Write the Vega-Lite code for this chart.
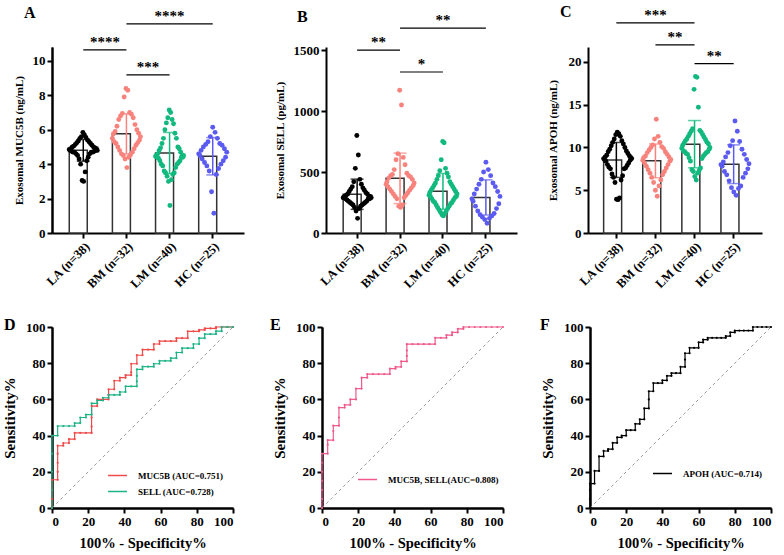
{
"$schema": "https://vega.github.io/schema/vega-lite/v6.json",
"background": "white",
"padding": {"left": 2, "top": 3, "right": 2, "bottom": 2},
"config": {
  "font": "Liberation Serif",
  "view": {"stroke": null},
  "axis": {"labelFont": "Liberation Serif", "titleFont": "Liberation Serif", "labelFontWeight": "bold", "titleFontWeight": "bold", "labelColor": "#000", "titleColor": "#000", "domainColor": "#000", "domainWidth": 2, "tickColor": "#000", "tickWidth": 2, "tickSize": 5, "grid": false, "labelPadding": 2, "labelOverlap": false},
  "title": {"font": "Liberation Serif", "fontWeight": "bold", "fontSize": 16, "anchor": "start", "color": "#000", "frame": "group"},
  "legend": {"labelFont": "Liberation Serif", "labelFontWeight": "bold", "labelFontSize": 9, "labelColor": "#000"}
},
"resolve": {"scale": {"color": "independent"}, "legend": {"color": "independent"}},
"datasets": {
  "a": [
    {"g":"LA","v":5.85,"o":-1},{"g":"LA","v":5.7,"o":3},{"g":"LA","v":5.6,"o":-5},{"g":"LA","v":5.55,"o":7},{"g":"LA","v":5.5,"o":-9},{"g":"LA","v":5.4,"o":11},{"g":"LA","v":5.35,"o":-13},{"g":"LA","v":5.3,"o":15},{"g":"LA","v":5.25,"o":-17},{"g":"LA","v":5.2,"o":19},{"g":"LA","v":5.15,"o":-21},{"g":"LA","v":5.1,"o":23},{"g":"LA","v":5.05,"o":-25},{"g":"LA","v":5.0,"o":27},{"g":"LA","v":5.0,"o":-29},{"g":"LA","v":4.95,"o":31},{"g":"LA","v":4.9,"o":-33},{"g":"LA","v":4.9,"o":35},{"g":"LA","v":4.85,"o":-37},{"g":"LA","v":4.8,"o":37},{"g":"LA","v":4.8,"o":-35},{"g":"LA","v":4.8,"o":33},{"g":"LA","v":4.75,"o":-31},{"g":"LA","v":4.75,"o":29},{"g":"LA","v":4.7,"o":-27},{"g":"LA","v":4.7,"o":25},{"g":"LA","v":4.7,"o":-23},{"g":"LA","v":4.7,"o":21},{"g":"LA","v":4.6,"o":-19},{"g":"LA","v":4.6,"o":17},{"g":"LA","v":4.5,"o":-15},{"g":"LA","v":4.4,"o":13},{"g":"LA","v":4.3,"o":-11},{"g":"LA","v":4.2,"o":9},{"g":"LA","v":4.0,"o":-7},{"g":"LA","v":3.55,"o":5},{"g":"LA","v":3.05,"o":-3},{"g":"LA","v":3.0,"o":1},
    {"g":"BM","v":8.4,"o":-1},{"g":"BM","v":8.3,"o":3},{"g":"BM","v":7.9,"o":-5},{"g":"BM","v":7.0,"o":7},{"g":"BM","v":6.95,"o":-9},{"g":"BM","v":6.9,"o":11},{"g":"BM","v":6.8,"o":-13},{"g":"BM","v":6.7,"o":15},{"g":"BM","v":6.6,"o":-17},{"g":"BM","v":6.3,"o":19},{"g":"BM","v":6.2,"o":-21},{"g":"BM","v":6.0,"o":23},{"g":"BM","v":5.9,"o":-25},{"g":"BM","v":5.8,"o":27},{"g":"BM","v":5.75,"o":-29},{"g":"BM","v":5.6,"o":31},{"g":"BM","v":5.5,"o":-31},{"g":"BM","v":5.4,"o":29},{"g":"BM","v":5.3,"o":-27},{"g":"BM","v":5.25,"o":25},{"g":"BM","v":5.2,"o":-23},{"g":"BM","v":5.1,"o":21},{"g":"BM","v":5.0,"o":-19},{"g":"BM","v":4.9,"o":17},{"g":"BM","v":4.8,"o":-15},{"g":"BM","v":4.7,"o":13},{"g":"BM","v":4.6,"o":-11},{"g":"BM","v":4.55,"o":9},{"g":"BM","v":4.5,"o":-7},{"g":"BM","v":4.4,"o":5},{"g":"BM","v":4.3,"o":-3},{"g":"BM","v":3.8,"o":1},
    {"g":"LM","v":7.15,"o":-1},{"g":"LM","v":7.0,"o":3},{"g":"LM","v":6.7,"o":-5},{"g":"LM","v":6.6,"o":7},{"g":"LM","v":6.4,"o":-9},{"g":"LM","v":6.35,"o":11},{"g":"LM","v":6.0,"o":-13},{"g":"LM","v":5.8,"o":15},{"g":"LM","v":5.5,"o":-17},{"g":"LM","v":5.5,"o":19},{"g":"LM","v":5.2,"o":-21},{"g":"LM","v":5.0,"o":23},{"g":"LM","v":4.95,"o":-25},{"g":"LM","v":4.9,"o":27},{"g":"LM","v":4.8,"o":-29},{"g":"LM","v":4.7,"o":31},{"g":"LM","v":4.6,"o":-33},{"g":"LM","v":4.5,"o":35},{"g":"LM","v":4.5,"o":-37},{"g":"LM","v":4.5,"o":39},{"g":"LM","v":4.45,"o":-39},{"g":"LM","v":4.4,"o":37},{"g":"LM","v":4.4,"o":-35},{"g":"LM","v":4.4,"o":33},{"g":"LM","v":4.35,"o":-31},{"g":"LM","v":4.2,"o":29},{"g":"LM","v":4.2,"o":-27},{"g":"LM","v":4.1,"o":25},{"g":"LM","v":4.0,"o":-23},{"g":"LM","v":4.0,"o":21},{"g":"LM","v":3.9,"o":-19},{"g":"LM","v":3.8,"o":17},{"g":"LM","v":3.6,"o":-15},{"g":"LM","v":3.5,"o":13},{"g":"LM","v":3.5,"o":-11},{"g":"LM","v":3.4,"o":9},{"g":"LM","v":3.3,"o":-7},{"g":"LM","v":3.1,"o":5},{"g":"LM","v":3.0,"o":-3},{"g":"LM","v":1.6,"o":1},
    {"g":"HC","v":6.15,"o":-1},{"g":"HC","v":5.85,"o":3},{"g":"HC","v":5.6,"o":-5},{"g":"HC","v":5.5,"o":7},{"g":"HC","v":5.3,"o":-9},{"g":"HC","v":5.2,"o":11},{"g":"HC","v":5.15,"o":-13},{"g":"HC","v":5.1,"o":15},{"g":"HC","v":5.0,"o":-17},{"g":"HC","v":4.9,"o":19},{"g":"HC","v":4.8,"o":-21},{"g":"HC","v":4.7,"o":23},{"g":"HC","v":4.6,"o":-25},{"g":"HC","v":4.5,"o":-23},{"g":"HC","v":4.4,"o":21},{"g":"HC","v":4.3,"o":-19},{"g":"HC","v":4.2,"o":17},{"g":"HC","v":4.1,"o":-15},{"g":"HC","v":4.0,"o":13},{"g":"HC","v":3.9,"o":-11},{"g":"HC","v":3.75,"o":9},{"g":"HC","v":3.6,"o":-7},{"g":"HC","v":3.4,"o":5},{"g":"HC","v":2.4,"o":-3},{"g":"HC","v":1.15,"o":1}
  ],
  "b": [
    {"g":"LA","v":800,"o":-1},{"g":"LA","v":640,"o":3},{"g":"LA","v":530,"o":-5},{"g":"LA","v":440,"o":7},{"g":"LA","v":420,"o":-9},{"g":"LA","v":400,"o":11},{"g":"LA","v":380,"o":-13},{"g":"LA","v":370,"o":15},{"g":"LA","v":360,"o":-17},{"g":"LA","v":350,"o":19},{"g":"LA","v":340,"o":-21},{"g":"LA","v":330,"o":23},{"g":"LA","v":320,"o":-25},{"g":"LA","v":320,"o":27},{"g":"LA","v":310,"o":-29},{"g":"LA","v":300,"o":31},{"g":"LA","v":300,"o":-33},{"g":"LA","v":300,"o":35},{"g":"LA","v":290,"o":-37},{"g":"LA","v":290,"o":37},{"g":"LA","v":290,"o":-35},{"g":"LA","v":280,"o":33},{"g":"LA","v":280,"o":-31},{"g":"LA","v":280,"o":29},{"g":"LA","v":270,"o":-27},{"g":"LA","v":260,"o":25},{"g":"LA","v":260,"o":-23},{"g":"LA","v":250,"o":21},{"g":"LA","v":250,"o":-19},{"g":"LA","v":240,"o":17},{"g":"LA","v":240,"o":-15},{"g":"LA","v":230,"o":13},{"g":"LA","v":230,"o":-11},{"g":"LA","v":220,"o":9},{"g":"LA","v":210,"o":-7},{"g":"LA","v":200,"o":5},{"g":"LA","v":180,"o":-3},{"g":"LA","v":120,"o":1},
    {"g":"BM","v":1170,"o":-1},{"g":"BM","v":1050,"o":3},{"g":"BM","v":650,"o":-5},{"g":"BM","v":620,"o":7},{"g":"BM","v":600,"o":-9},{"g":"BM","v":560,"o":11},{"g":"BM","v":520,"o":-13},{"g":"BM","v":490,"o":15},{"g":"BM","v":480,"o":-17},{"g":"BM","v":470,"o":19},{"g":"BM","v":470,"o":-21},{"g":"BM","v":460,"o":23},{"g":"BM","v":450,"o":-25},{"g":"BM","v":440,"o":27},{"g":"BM","v":420,"o":-29},{"g":"BM","v":410,"o":31},{"g":"BM","v":400,"o":-31},{"g":"BM","v":390,"o":29},{"g":"BM","v":380,"o":-27},{"g":"BM","v":370,"o":25},{"g":"BM","v":360,"o":-23},{"g":"BM","v":350,"o":21},{"g":"BM","v":340,"o":-19},{"g":"BM","v":330,"o":17},{"g":"BM","v":320,"o":-15},{"g":"BM","v":310,"o":13},{"g":"BM","v":300,"o":-11},{"g":"BM","v":290,"o":9},{"g":"BM","v":280,"o":-7},{"g":"BM","v":230,"o":5},{"g":"BM","v":220,"o":-3},{"g":"BM","v":210,"o":1},
    {"g":"LM","v":750,"o":-1},{"g":"LM","v":740,"o":3},{"g":"LM","v":600,"o":-5},{"g":"LM","v":530,"o":7},{"g":"LM","v":510,"o":-9},{"g":"LM","v":490,"o":11},{"g":"LM","v":470,"o":-13},{"g":"LM","v":460,"o":15},{"g":"LM","v":440,"o":-17},{"g":"LM","v":420,"o":19},{"g":"LM","v":410,"o":-21},{"g":"LM","v":400,"o":23},{"g":"LM","v":390,"o":-25},{"g":"LM","v":380,"o":27},{"g":"LM","v":370,"o":-29},{"g":"LM","v":360,"o":31},{"g":"LM","v":350,"o":-33},{"g":"LM","v":340,"o":35},{"g":"LM","v":330,"o":-37},{"g":"LM","v":320,"o":39},{"g":"LM","v":310,"o":-39},{"g":"LM","v":300,"o":37},{"g":"LM","v":300,"o":-35},{"g":"LM","v":290,"o":33},{"g":"LM","v":280,"o":-31},{"g":"LM","v":270,"o":29},{"g":"LM","v":260,"o":-27},{"g":"LM","v":250,"o":25},{"g":"LM","v":250,"o":-23},{"g":"LM","v":240,"o":21},{"g":"LM","v":230,"o":-19},{"g":"LM","v":220,"o":17},{"g":"LM","v":210,"o":-15},{"g":"LM","v":200,"o":13},{"g":"LM","v":190,"o":-11},{"g":"LM","v":180,"o":9},{"g":"LM","v":170,"o":-7},{"g":"LM","v":160,"o":5},{"g":"LM","v":150,"o":-3},{"g":"LM","v":140,"o":1},
    {"g":"HC","v":580,"o":-1},{"g":"HC","v":520,"o":3},{"g":"HC","v":500,"o":-5},{"g":"HC","v":470,"o":7},{"g":"HC","v":440,"o":-9},{"g":"HC","v":410,"o":11},{"g":"HC","v":400,"o":-13},{"g":"HC","v":380,"o":15},{"g":"HC","v":360,"o":-17},{"g":"HC","v":340,"o":19},{"g":"HC","v":320,"o":-21},{"g":"HC","v":300,"o":23},{"g":"HC","v":280,"o":-25},{"g":"HC","v":260,"o":-23},{"g":"HC","v":240,"o":21},{"g":"HC","v":220,"o":-19},{"g":"HC","v":200,"o":17},{"g":"HC","v":180,"o":-15},{"g":"HC","v":160,"o":13},{"g":"HC","v":150,"o":-11},{"g":"HC","v":140,"o":9},{"g":"HC","v":130,"o":-7},{"g":"HC","v":120,"o":5},{"g":"HC","v":110,"o":-3},{"g":"HC","v":80,"o":1}
  ],
  "c": [
    {"g":"LA","v":11.8,"o":-1},{"g":"LA","v":11.6,"o":3},{"g":"LA","v":11.5,"o":-5},{"g":"LA","v":11.3,"o":7},{"g":"LA","v":11.0,"o":-9},{"g":"LA","v":10.8,"o":11},{"g":"LA","v":10.6,"o":-13},{"g":"LA","v":10.4,"o":15},{"g":"LA","v":10.2,"o":-17},{"g":"LA","v":10.0,"o":19},{"g":"LA","v":9.8,"o":-21},{"g":"LA","v":9.6,"o":23},{"g":"LA","v":9.5,"o":-25},{"g":"LA","v":9.3,"o":27},{"g":"LA","v":9.1,"o":-29},{"g":"LA","v":9.0,"o":31},{"g":"LA","v":8.9,"o":-33},{"g":"LA","v":8.8,"o":35},{"g":"LA","v":8.7,"o":-37},{"g":"LA","v":8.7,"o":37},{"g":"LA","v":8.6,"o":-35},{"g":"LA","v":8.5,"o":33},{"g":"LA","v":8.4,"o":-31},{"g":"LA","v":8.2,"o":29},{"g":"LA","v":8.0,"o":-27},{"g":"LA","v":7.9,"o":25},{"g":"LA","v":7.7,"o":-23},{"g":"LA","v":7.6,"o":21},{"g":"LA","v":7.5,"o":-19},{"g":"LA","v":7.5,"o":17},{"g":"LA","v":6.9,"o":-15},{"g":"LA","v":6.7,"o":13},{"g":"LA","v":6.5,"o":-11},{"g":"LA","v":6.2,"o":9},{"g":"LA","v":5.9,"o":-7},{"g":"LA","v":4.1,"o":5},{"g":"LA","v":3.95,"o":-3},{"g":"LA","v":3.9,"o":1},
    {"g":"BM","v":13.3,"o":-1},{"g":"BM","v":11.3,"o":3},{"g":"BM","v":11.0,"o":-5},{"g":"BM","v":10.6,"o":7},{"g":"BM","v":10.3,"o":-9},{"g":"BM","v":10.1,"o":11},{"g":"BM","v":10.0,"o":-13},{"g":"BM","v":9.9,"o":15},{"g":"BM","v":9.7,"o":-17},{"g":"BM","v":9.5,"o":19},{"g":"BM","v":9.4,"o":-21},{"g":"BM","v":9.2,"o":23},{"g":"BM","v":9.0,"o":-25},{"g":"BM","v":8.9,"o":27},{"g":"BM","v":8.8,"o":-29},{"g":"BM","v":8.6,"o":31},{"g":"BM","v":8.5,"o":-31},{"g":"BM","v":8.4,"o":29},{"g":"BM","v":8.2,"o":-27},{"g":"BM","v":8.0,"o":25},{"g":"BM","v":7.8,"o":-23},{"g":"BM","v":7.6,"o":21},{"g":"BM","v":7.4,"o":-19},{"g":"BM","v":7.2,"o":17},{"g":"BM","v":7.0,"o":-15},{"g":"BM","v":6.8,"o":13},{"g":"BM","v":6.5,"o":-11},{"g":"BM","v":6.2,"o":9},{"g":"BM","v":5.9,"o":-7},{"g":"BM","v":5.5,"o":5},{"g":"BM","v":5.0,"o":-3},{"g":"BM","v":4.3,"o":1},
    {"g":"LM","v":18.3,"o":-1},{"g":"LM","v":18.2,"o":3},{"g":"LM","v":16.8,"o":-5},{"g":"LM","v":14.7,"o":7},{"g":"LM","v":12.2,"o":-9},{"g":"LM","v":12.0,"o":11},{"g":"LM","v":11.9,"o":-13},{"g":"LM","v":11.8,"o":15},{"g":"LM","v":11.6,"o":-17},{"g":"LM","v":11.5,"o":19},{"g":"LM","v":11.3,"o":-21},{"g":"LM","v":11.2,"o":23},{"g":"LM","v":11.0,"o":-25},{"g":"LM","v":10.9,"o":27},{"g":"LM","v":10.8,"o":-29},{"g":"LM","v":10.6,"o":31},{"g":"LM","v":10.5,"o":-33},{"g":"LM","v":10.4,"o":35},{"g":"LM","v":10.2,"o":-37},{"g":"LM","v":10.0,"o":39},{"g":"LM","v":9.9,"o":-39},{"g":"LM","v":9.8,"o":37},{"g":"LM","v":9.6,"o":-35},{"g":"LM","v":9.5,"o":33},{"g":"LM","v":9.5,"o":-31},{"g":"LM","v":9.4,"o":29},{"g":"LM","v":9.3,"o":-27},{"g":"LM","v":9.2,"o":25},{"g":"LM","v":9.2,"o":-23},{"g":"LM","v":9.0,"o":21},{"g":"LM","v":8.8,"o":-19},{"g":"LM","v":8.7,"o":17},{"g":"LM","v":8.4,"o":-15},{"g":"LM","v":7.6,"o":13},{"g":"LM","v":7.4,"o":-11},{"g":"LM","v":7.3,"o":9},{"g":"LM","v":7.2,"o":-7},{"g":"LM","v":7.0,"o":5},{"g":"LM","v":6.6,"o":-3},{"g":"LM","v":6.2,"o":1},
    {"g":"HC","v":13.1,"o":-1},{"g":"HC","v":11.9,"o":3},{"g":"HC","v":10.8,"o":-5},{"g":"HC","v":10.7,"o":7},{"g":"HC","v":10.2,"o":-9},{"g":"HC","v":9.8,"o":11},{"g":"HC","v":9.4,"o":-13},{"g":"HC","v":9.2,"o":15},{"g":"HC","v":8.9,"o":-17},{"g":"HC","v":8.6,"o":19},{"g":"HC","v":8.3,"o":-21},{"g":"HC","v":8.1,"o":23},{"g":"HC","v":8.0,"o":-25},{"g":"HC","v":7.8,"o":-23},{"g":"HC","v":7.5,"o":21},{"g":"HC","v":7.2,"o":-19},{"g":"HC","v":7.0,"o":17},{"g":"HC","v":6.8,"o":-15},{"g":"HC","v":6.5,"o":13},{"g":"HC","v":6.1,"o":-11},{"g":"HC","v":5.5,"o":9},{"g":"HC","v":5.3,"o":-7},{"g":"HC","v":5.2,"o":5},{"g":"HC","v":4.8,"o":-3},{"g":"HC","v":4.4,"o":1}
  ],
  "ab": [{"a":"LA","b":"BM","m":"LA","y":10.64,"s":"****","sp":1},{"a":"BM","b":"LM","m":"BM","y":9.19,"s":"***","sp":1},{"a":"BM","b":"HC","m":"LM","y":12.15,"s":"****","sp":2}],
  "bb": [{"a":"LA","b":"BM","m":"LA","y":1500,"s":"**","sp":1},{"a":"BM","b":"LM","m":"BM","y":1320,"s":"*","sp":1},{"a":"BM","b":"HC","m":"LM","y":1680,"s":"**","sp":2}],
  "cb": [{"a":"LA","b":"LM","m":"BM","y":24.56,"s":"***","sp":2},{"a":"BM","b":"LM","m":"BM","y":22.0,"s":"**","sp":1},{"a":"LM","b":"HC","m":"LM","y":19.8,"s":"**","sp":1}],
  "d": [
    {"c":"MUC5B (AUC=0.751)","fpr":0,"sens":0},{"c":"MUC5B (AUC=0.751)","fpr":0,"sens":5},{"c":"MUC5B (AUC=0.751)","fpr":0,"sens":10},{"c":"MUC5B (AUC=0.751)","fpr":0,"sens":15.6},{"c":"MUC5B (AUC=0.751)","fpr":3.125,"sens":15.6},{"c":"MUC5B (AUC=0.751)","fpr":3.125,"sens":20},{"c":"MUC5B (AUC=0.751)","fpr":3.125,"sens":25},{"c":"MUC5B (AUC=0.751)","fpr":3.125,"sens":30},{"c":"MUC5B (AUC=0.751)","fpr":3.125,"sens":34.4},{"c":"MUC5B (AUC=0.751)","fpr":6.25,"sens":34.4},{"c":"MUC5B (AUC=0.751)","fpr":6.25,"sens":35.9},{"c":"MUC5B (AUC=0.751)","fpr":9.375,"sens":35.9},{"c":"MUC5B (AUC=0.751)","fpr":9.375,"sens":38},{"c":"MUC5B (AUC=0.751)","fpr":12.5,"sens":38},{"c":"MUC5B (AUC=0.751)","fpr":12.5,"sens":41.5},{"c":"MUC5B (AUC=0.751)","fpr":15.625,"sens":41.5},{"c":"MUC5B (AUC=0.751)","fpr":18.75,"sens":41.5},{"c":"MUC5B (AUC=0.751)","fpr":21.875,"sens":41.5},{"c":"MUC5B (AUC=0.751)","fpr":21.875,"sens":45},{"c":"MUC5B (AUC=0.751)","fpr":21.875,"sens":50},{"c":"MUC5B (AUC=0.751)","fpr":21.875,"sens":56.3},{"c":"MUC5B (AUC=0.751)","fpr":25,"sens":56.3},{"c":"MUC5B (AUC=0.751)","fpr":25,"sens":60},{"c":"MUC5B (AUC=0.751)","fpr":28.125,"sens":60},{"c":"MUC5B (AUC=0.751)","fpr":31.25,"sens":60},{"c":"MUC5B (AUC=0.751)","fpr":31.25,"sens":62.5},{"c":"MUC5B (AUC=0.751)","fpr":31.25,"sens":65.6},{"c":"MUC5B (AUC=0.751)","fpr":34.375,"sens":65.6},{"c":"MUC5B (AUC=0.751)","fpr":34.375,"sens":70.3},{"c":"MUC5B (AUC=0.751)","fpr":37.5,"sens":70.3},{"c":"MUC5B (AUC=0.751)","fpr":37.5,"sens":72},{"c":"MUC5B (AUC=0.751)","fpr":40.625,"sens":72},{"c":"MUC5B (AUC=0.751)","fpr":40.625,"sens":73.4},{"c":"MUC5B (AUC=0.751)","fpr":43.75,"sens":73.4},{"c":"MUC5B (AUC=0.751)","fpr":43.75,"sens":75},{"c":"MUC5B (AUC=0.751)","fpr":43.75,"sens":79.7},{"c":"MUC5B (AUC=0.751)","fpr":46.875,"sens":79.7},{"c":"MUC5B (AUC=0.751)","fpr":46.875,"sens":84.4},{"c":"MUC5B (AUC=0.751)","fpr":50,"sens":84.4},{"c":"MUC5B (AUC=0.751)","fpr":50,"sens":87.5},{"c":"MUC5B (AUC=0.751)","fpr":53.125,"sens":87.5},{"c":"MUC5B (AUC=0.751)","fpr":56.25,"sens":87.5},{"c":"MUC5B (AUC=0.751)","fpr":56.25,"sens":90.6},{"c":"MUC5B (AUC=0.751)","fpr":59.375,"sens":90.6},{"c":"MUC5B (AUC=0.751)","fpr":59.375,"sens":92.2},{"c":"MUC5B (AUC=0.751)","fpr":62.5,"sens":92.2},{"c":"MUC5B (AUC=0.751)","fpr":65.625,"sens":92.2},{"c":"MUC5B (AUC=0.751)","fpr":68.75,"sens":92.2},{"c":"MUC5B (AUC=0.751)","fpr":68.75,"sens":93.8},{"c":"MUC5B (AUC=0.751)","fpr":71.875,"sens":93.8},{"c":"MUC5B (AUC=0.751)","fpr":75,"sens":93.8},{"c":"MUC5B (AUC=0.751)","fpr":75,"sens":97.6},{"c":"MUC5B (AUC=0.751)","fpr":78.125,"sens":97.6},{"c":"MUC5B (AUC=0.751)","fpr":81.25,"sens":97.6},{"c":"MUC5B (AUC=0.751)","fpr":81.25,"sens":98.4},{"c":"MUC5B (AUC=0.751)","fpr":84.375,"sens":98.4},{"c":"MUC5B (AUC=0.751)","fpr":84.375,"sens":99.2},{"c":"MUC5B (AUC=0.751)","fpr":87.5,"sens":99.2},{"c":"MUC5B (AUC=0.751)","fpr":90.625,"sens":99.2},{"c":"MUC5B (AUC=0.751)","fpr":90.625,"sens":100},{"c":"MUC5B (AUC=0.751)","fpr":93.75,"sens":100},{"c":"MUC5B (AUC=0.751)","fpr":96.875,"sens":100},{"c":"MUC5B (AUC=0.751)","fpr":100,"sens":100},
    {"c":"SELL (AUC=0.728)","fpr":0,"sens":0},{"c":"SELL (AUC=0.728)","fpr":0,"sens":10},{"c":"SELL (AUC=0.728)","fpr":0,"sens":20},{"c":"SELL (AUC=0.728)","fpr":0,"sens":30},{"c":"SELL (AUC=0.728)","fpr":0,"sens":40},{"c":"SELL (AUC=0.728)","fpr":3.125,"sens":40},{"c":"SELL (AUC=0.728)","fpr":3.125,"sens":45.3},{"c":"SELL (AUC=0.728)","fpr":6.25,"sens":45.3},{"c":"SELL (AUC=0.728)","fpr":9.375,"sens":45.3},{"c":"SELL (AUC=0.728)","fpr":12.5,"sens":45.3},{"c":"SELL (AUC=0.728)","fpr":12.5,"sens":46.9},{"c":"SELL (AUC=0.728)","fpr":15.625,"sens":46.9},{"c":"SELL (AUC=0.728)","fpr":15.625,"sens":50},{"c":"SELL (AUC=0.728)","fpr":18.75,"sens":50},{"c":"SELL (AUC=0.728)","fpr":18.75,"sens":51.6},{"c":"SELL (AUC=0.728)","fpr":21.875,"sens":51.6},{"c":"SELL (AUC=0.728)","fpr":21.875,"sens":57.8},{"c":"SELL (AUC=0.728)","fpr":25,"sens":57.8},{"c":"SELL (AUC=0.728)","fpr":25,"sens":59.4},{"c":"SELL (AUC=0.728)","fpr":28.125,"sens":59.4},{"c":"SELL (AUC=0.728)","fpr":28.125,"sens":60.9},{"c":"SELL (AUC=0.728)","fpr":31.25,"sens":60.9},{"c":"SELL (AUC=0.728)","fpr":31.25,"sens":62.5},{"c":"SELL (AUC=0.728)","fpr":34.375,"sens":62.5},{"c":"SELL (AUC=0.728)","fpr":37.5,"sens":62.5},{"c":"SELL (AUC=0.728)","fpr":37.5,"sens":64.1},{"c":"SELL (AUC=0.728)","fpr":40.625,"sens":64.1},{"c":"SELL (AUC=0.728)","fpr":40.625,"sens":67.2},{"c":"SELL (AUC=0.728)","fpr":43.75,"sens":67.2},{"c":"SELL (AUC=0.728)","fpr":46.875,"sens":67.2},{"c":"SELL (AUC=0.728)","fpr":46.875,"sens":70},{"c":"SELL (AUC=0.728)","fpr":46.875,"sens":73},{"c":"SELL (AUC=0.728)","fpr":46.875,"sens":76.6},{"c":"SELL (AUC=0.728)","fpr":50,"sens":76.6},{"c":"SELL (AUC=0.728)","fpr":50,"sens":78.1},{"c":"SELL (AUC=0.728)","fpr":53.125,"sens":78.1},{"c":"SELL (AUC=0.728)","fpr":56.25,"sens":78.1},{"c":"SELL (AUC=0.728)","fpr":56.25,"sens":79.7},{"c":"SELL (AUC=0.728)","fpr":59.375,"sens":79.7},{"c":"SELL (AUC=0.728)","fpr":59.375,"sens":81.3},{"c":"SELL (AUC=0.728)","fpr":62.5,"sens":81.3},{"c":"SELL (AUC=0.728)","fpr":65.625,"sens":81.3},{"c":"SELL (AUC=0.728)","fpr":65.625,"sens":82.8},{"c":"SELL (AUC=0.728)","fpr":68.75,"sens":82.8},{"c":"SELL (AUC=0.728)","fpr":68.75,"sens":85.9},{"c":"SELL (AUC=0.728)","fpr":71.875,"sens":85.9},{"c":"SELL (AUC=0.728)","fpr":71.875,"sens":88.3},{"c":"SELL (AUC=0.728)","fpr":75,"sens":88.3},{"c":"SELL (AUC=0.728)","fpr":78.125,"sens":88.3},{"c":"SELL (AUC=0.728)","fpr":78.125,"sens":90.6},{"c":"SELL (AUC=0.728)","fpr":81.25,"sens":90.6},{"c":"SELL (AUC=0.728)","fpr":81.25,"sens":93.8},{"c":"SELL (AUC=0.728)","fpr":84.375,"sens":93.8},{"c":"SELL (AUC=0.728)","fpr":84.375,"sens":96.1},{"c":"SELL (AUC=0.728)","fpr":87.5,"sens":96.1},{"c":"SELL (AUC=0.728)","fpr":90.625,"sens":96.1},{"c":"SELL (AUC=0.728)","fpr":90.625,"sens":97.7},{"c":"SELL (AUC=0.728)","fpr":93.75,"sens":97.7},{"c":"SELL (AUC=0.728)","fpr":93.75,"sens":100},{"c":"SELL (AUC=0.728)","fpr":96.875,"sens":100},{"c":"SELL (AUC=0.728)","fpr":100,"sens":100}
  ],
  "e": [
    {"c":"MUC5B, SELL(AUC=0.808)","fpr":0,"sens":0},{"c":"MUC5B, SELL(AUC=0.808)","fpr":0,"sens":5},{"c":"MUC5B, SELL(AUC=0.808)","fpr":0,"sens":10},{"c":"MUC5B, SELL(AUC=0.808)","fpr":0,"sens":15},{"c":"MUC5B, SELL(AUC=0.808)","fpr":0,"sens":20},{"c":"MUC5B, SELL(AUC=0.808)","fpr":0,"sens":25},{"c":"MUC5B, SELL(AUC=0.808)","fpr":0,"sens":30},{"c":"MUC5B, SELL(AUC=0.808)","fpr":3.125,"sens":30},{"c":"MUC5B, SELL(AUC=0.808)","fpr":3.125,"sens":35},{"c":"MUC5B, SELL(AUC=0.808)","fpr":3.125,"sens":37.5},{"c":"MUC5B, SELL(AUC=0.808)","fpr":6.25,"sens":37.5},{"c":"MUC5B, SELL(AUC=0.808)","fpr":6.25,"sens":42.5},{"c":"MUC5B, SELL(AUC=0.808)","fpr":6.25,"sens":45.5},{"c":"MUC5B, SELL(AUC=0.808)","fpr":9.375,"sens":45.5},{"c":"MUC5B, SELL(AUC=0.808)","fpr":9.375,"sens":50},{"c":"MUC5B, SELL(AUC=0.808)","fpr":9.375,"sens":55.5},{"c":"MUC5B, SELL(AUC=0.808)","fpr":12.5,"sens":55.5},{"c":"MUC5B, SELL(AUC=0.808)","fpr":12.5,"sens":57},{"c":"MUC5B, SELL(AUC=0.808)","fpr":15.625,"sens":57},{"c":"MUC5B, SELL(AUC=0.808)","fpr":15.625,"sens":60},{"c":"MUC5B, SELL(AUC=0.808)","fpr":18.75,"sens":60},{"c":"MUC5B, SELL(AUC=0.808)","fpr":18.75,"sens":66},{"c":"MUC5B, SELL(AUC=0.808)","fpr":21.875,"sens":66},{"c":"MUC5B, SELL(AUC=0.808)","fpr":21.875,"sens":72},{"c":"MUC5B, SELL(AUC=0.808)","fpr":25,"sens":72},{"c":"MUC5B, SELL(AUC=0.808)","fpr":25,"sens":74},{"c":"MUC5B, SELL(AUC=0.808)","fpr":28.125,"sens":74},{"c":"MUC5B, SELL(AUC=0.808)","fpr":31.25,"sens":74},{"c":"MUC5B, SELL(AUC=0.808)","fpr":34.375,"sens":74},{"c":"MUC5B, SELL(AUC=0.808)","fpr":37.5,"sens":74},{"c":"MUC5B, SELL(AUC=0.808)","fpr":37.5,"sens":77},{"c":"MUC5B, SELL(AUC=0.808)","fpr":40.625,"sens":77},{"c":"MUC5B, SELL(AUC=0.808)","fpr":40.625,"sens":78},{"c":"MUC5B, SELL(AUC=0.808)","fpr":43.75,"sens":78},{"c":"MUC5B, SELL(AUC=0.808)","fpr":43.75,"sens":81},{"c":"MUC5B, SELL(AUC=0.808)","fpr":46.875,"sens":81},{"c":"MUC5B, SELL(AUC=0.808)","fpr":46.875,"sens":84},{"c":"MUC5B, SELL(AUC=0.808)","fpr":46.875,"sens":87},{"c":"MUC5B, SELL(AUC=0.808)","fpr":46.875,"sens":90.5},{"c":"MUC5B, SELL(AUC=0.808)","fpr":50,"sens":90.5},{"c":"MUC5B, SELL(AUC=0.808)","fpr":53.125,"sens":90.5},{"c":"MUC5B, SELL(AUC=0.808)","fpr":56.25,"sens":90.5},{"c":"MUC5B, SELL(AUC=0.808)","fpr":59.375,"sens":90.5},{"c":"MUC5B, SELL(AUC=0.808)","fpr":62.5,"sens":90.5},{"c":"MUC5B, SELL(AUC=0.808)","fpr":62.5,"sens":94},{"c":"MUC5B, SELL(AUC=0.808)","fpr":65.625,"sens":94},{"c":"MUC5B, SELL(AUC=0.808)","fpr":68.75,"sens":94},{"c":"MUC5B, SELL(AUC=0.808)","fpr":68.75,"sens":95.5},{"c":"MUC5B, SELL(AUC=0.808)","fpr":71.875,"sens":95.5},{"c":"MUC5B, SELL(AUC=0.808)","fpr":71.875,"sens":97},{"c":"MUC5B, SELL(AUC=0.808)","fpr":75,"sens":97},{"c":"MUC5B, SELL(AUC=0.808)","fpr":75,"sens":99},{"c":"MUC5B, SELL(AUC=0.808)","fpr":78.125,"sens":99},{"c":"MUC5B, SELL(AUC=0.808)","fpr":78.125,"sens":100},{"c":"MUC5B, SELL(AUC=0.808)","fpr":81.25,"sens":100},{"c":"MUC5B, SELL(AUC=0.808)","fpr":84.375,"sens":100},{"c":"MUC5B, SELL(AUC=0.808)","fpr":87.5,"sens":100},{"c":"MUC5B, SELL(AUC=0.808)","fpr":90.625,"sens":100},{"c":"MUC5B, SELL(AUC=0.808)","fpr":93.75,"sens":100},{"c":"MUC5B, SELL(AUC=0.808)","fpr":96.875,"sens":100},{"c":"MUC5B, SELL(AUC=0.808)","fpr":100,"sens":100}
  ],
  "f": [
    {"c":"APOH (AUC=0.714)","fpr":0,"sens":0},{"c":"APOH (AUC=0.714)","fpr":0,"sens":5},{"c":"APOH (AUC=0.714)","fpr":0,"sens":10},{"c":"APOH (AUC=0.714)","fpr":0,"sens":13.5},{"c":"APOH (AUC=0.714)","fpr":2.5,"sens":13.5},{"c":"APOH (AUC=0.714)","fpr":2.5,"sens":20.5},{"c":"APOH (AUC=0.714)","fpr":5,"sens":20.5},{"c":"APOH (AUC=0.714)","fpr":5,"sens":28.5},{"c":"APOH (AUC=0.714)","fpr":7.5,"sens":28.5},{"c":"APOH (AUC=0.714)","fpr":7.5,"sens":31.5},{"c":"APOH (AUC=0.714)","fpr":10,"sens":31.5},{"c":"APOH (AUC=0.714)","fpr":10,"sens":32.5},{"c":"APOH (AUC=0.714)","fpr":12.5,"sens":32.5},{"c":"APOH (AUC=0.714)","fpr":12.5,"sens":36},{"c":"APOH (AUC=0.714)","fpr":15,"sens":36},{"c":"APOH (AUC=0.714)","fpr":15,"sens":39},{"c":"APOH (AUC=0.714)","fpr":17.5,"sens":39},{"c":"APOH (AUC=0.714)","fpr":17.5,"sens":40},{"c":"APOH (AUC=0.714)","fpr":20,"sens":40},{"c":"APOH (AUC=0.714)","fpr":20,"sens":43},{"c":"APOH (AUC=0.714)","fpr":22.5,"sens":43},{"c":"APOH (AUC=0.714)","fpr":25,"sens":43},{"c":"APOH (AUC=0.714)","fpr":25,"sens":46.5},{"c":"APOH (AUC=0.714)","fpr":27.5,"sens":46.5},{"c":"APOH (AUC=0.714)","fpr":27.5,"sens":49},{"c":"APOH (AUC=0.714)","fpr":30,"sens":49},{"c":"APOH (AUC=0.714)","fpr":30,"sens":55},{"c":"APOH (AUC=0.714)","fpr":32.5,"sens":55},{"c":"APOH (AUC=0.714)","fpr":32.5,"sens":60},{"c":"APOH (AUC=0.714)","fpr":32.5,"sens":64.5},{"c":"APOH (AUC=0.714)","fpr":35,"sens":64.5},{"c":"APOH (AUC=0.714)","fpr":35,"sens":69},{"c":"APOH (AUC=0.714)","fpr":37.5,"sens":69},{"c":"APOH (AUC=0.714)","fpr":40,"sens":69},{"c":"APOH (AUC=0.714)","fpr":40,"sens":70.5},{"c":"APOH (AUC=0.714)","fpr":42.5,"sens":70.5},{"c":"APOH (AUC=0.714)","fpr":42.5,"sens":73},{"c":"APOH (AUC=0.714)","fpr":45,"sens":73},{"c":"APOH (AUC=0.714)","fpr":45,"sens":74.5},{"c":"APOH (AUC=0.714)","fpr":47.5,"sens":74.5},{"c":"APOH (AUC=0.714)","fpr":50,"sens":74.5},{"c":"APOH (AUC=0.714)","fpr":50,"sens":78},{"c":"APOH (AUC=0.714)","fpr":52.5,"sens":78},{"c":"APOH (AUC=0.714)","fpr":52.5,"sens":82},{"c":"APOH (AUC=0.714)","fpr":52.5,"sens":85.5},{"c":"APOH (AUC=0.714)","fpr":55,"sens":85.5},{"c":"APOH (AUC=0.714)","fpr":55,"sens":88.5},{"c":"APOH (AUC=0.714)","fpr":57.5,"sens":88.5},{"c":"APOH (AUC=0.714)","fpr":60,"sens":88.5},{"c":"APOH (AUC=0.714)","fpr":60,"sens":91.5},{"c":"APOH (AUC=0.714)","fpr":62.5,"sens":91.5},{"c":"APOH (AUC=0.714)","fpr":62.5,"sens":93},{"c":"APOH (AUC=0.714)","fpr":65,"sens":93},{"c":"APOH (AUC=0.714)","fpr":65,"sens":94},{"c":"APOH (AUC=0.714)","fpr":67.5,"sens":94},{"c":"APOH (AUC=0.714)","fpr":70,"sens":94},{"c":"APOH (AUC=0.714)","fpr":72.5,"sens":94},{"c":"APOH (AUC=0.714)","fpr":75,"sens":94},{"c":"APOH (AUC=0.714)","fpr":75,"sens":95},{"c":"APOH (AUC=0.714)","fpr":77.5,"sens":95},{"c":"APOH (AUC=0.714)","fpr":77.5,"sens":97},{"c":"APOH (AUC=0.714)","fpr":80,"sens":97},{"c":"APOH (AUC=0.714)","fpr":80,"sens":98},{"c":"APOH (AUC=0.714)","fpr":82.5,"sens":98},{"c":"APOH (AUC=0.714)","fpr":85,"sens":98},{"c":"APOH (AUC=0.714)","fpr":87.5,"sens":98},{"c":"APOH (AUC=0.714)","fpr":90,"sens":98},{"c":"APOH (AUC=0.714)","fpr":90,"sens":100},{"c":"APOH (AUC=0.714)","fpr":92.5,"sens":100},{"c":"APOH (AUC=0.714)","fpr":95,"sens":100},{"c":"APOH (AUC=0.714)","fpr":97.5,"sens":100},{"c":"APOH (AUC=0.714)","fpr":100,"sens":100}
  ],
  "diag": [{"x":0,"y":0},{"x":100,"y":100}]
},
"spacing": 27,
"vconcat": [
{
"spacing": 30,
"resolve": {"scale": {"color": "independent"}, "legend": {"color": "independent"}},
"hconcat": [
  {
    "width": 192, "height": 186,
    "title": {"text": "A", "dx": -28, "offset": -12},
    "resolve": {"axis": {"y": "independent"}},
    "layer": [
      {"data": {"name": "a"},
       "mark": {"type": "bar", "fill": "white", "stroke": "#333333", "strokeWidth": 1.5},
       "encoding": {
         "x": {"field": "g", "type": "nominal", "title": null, "scale": {"domain": ["LA","BM","LM","HC"], "paddingInner": 0.35, "paddingOuter": 0.4}, "axis": {"labelAngle": -45, "labelFontSize": 12.5, "labelExpr": "datum.label == 'LA' ? 'LA (n=38)' : datum.label == 'BM' ? 'BM (n=32)' : datum.label == 'LM' ? 'LM (n=40)' : 'HC (n=25)'"}},
         "y": {"aggregate": "mean", "field": "v", "type": "quantitative", "title": "Exosomal MUC5B (ng/mL)", "scale": {"domain": [0, 10.81], "nice": false}, "axis": {"orient": "left", "values": [0,4,8], "labelFontSize": 13, "titleFontSize": 11, "titlePadding": 14}}
       }},
      {"data": {"name": "a"},
       "transform": [{"window": [{"op": "percent_rank", "as": "pr"}], "sort": [{"field": "o"}], "groupby": ["g"]}],
       "mark": {"type": "circle", "size": 24, "opacity": 1},
       "encoding": {
         "x": {"field": "g", "type": "nominal", "title": null},
         "xOffset": {"field": "pr", "type": "quantitative", "scale": {"domain": [0, 1]}},
         "y": {"field": "v", "type": "quantitative", "axis": {"orient": "left", "values": [2,6,10], "title": null, "labelFontSize": 13}},
         "color": {"field": "g", "type": "nominal", "scale": {"domain": ["LA","BM","LM","HC"], "range": ["#000000","#F8837D","#12B97E","#5B5BF2"]}, "legend": null}
       }},
      {"data": {"name": "a"},
       "mark": {"type": "errorbar", "extent": "stdev", "ticks": true, "size": 13, "thickness": 1.5},
       "encoding": {
         "x": {"field": "g", "type": "nominal", "title": null},
         "y": {"field": "v", "type": "quantitative", "axis": null},
         "color": {"field": "g", "type": "nominal", "legend": null}
       }},
      {"data": {"name": "ab"},
       "mark": {"type": "rule", "strokeWidth": 1.2, "color": "#000"},
       "encoding": {"x": {"field": "a", "type": "nominal", "title": null}, "x2": {"field": "b"}, "y": {"field": "y", "type": "quantitative", "axis": null}}},
      {"data": {"name": "ab"},
       "transform": [{"filter": "datum.sp == 1"}],
       "mark": {"type": "text", "dx": 21.6, "dy": -3, "baseline": "alphabetic", "fontSize": 15, "fontWeight": "bold", "font": "Liberation Serif", "color": "#000"},
       "encoding": {"x": {"field": "a", "type": "nominal", "title": null}, "y": {"field": "y", "type": "quantitative", "axis": null}, "text": {"field": "s"}}},
      {"data": {"name": "ab"},
       "transform": [{"filter": "datum.sp == 2"}],
       "mark": {"type": "text", "dy": -3, "baseline": "alphabetic", "fontSize": 15, "fontWeight": "bold", "font": "Liberation Serif", "color": "#000"},
       "encoding": {"x": {"field": "m", "type": "nominal", "title": null}, "y": {"field": "y", "type": "quantitative", "axis": null}, "text": {"field": "s"}}}
    ]
  },
  {
    "width": 191, "height": 186,
    "title": {"text": "B", "dx": -29, "offset": -12},
    "layer": [
      {"data": {"name": "b"},
       "mark": {"type": "bar", "fill": "white", "stroke": "#333333", "strokeWidth": 1.5},
       "encoding": {
         "x": {"field": "g", "type": "nominal", "title": null, "scale": {"domain": ["LA","BM","LM","HC"], "paddingInner": 0.35, "paddingOuter": 0.4}, "axis": {"labelAngle": -45, "labelFontSize": 12.5, "labelExpr": "datum.label == 'LA' ? 'LA (n=38)' : datum.label == 'BM' ? 'BM (n=32)' : datum.label == 'LM' ? 'LM (n=40)' : 'HC (n=25)'"}},
         "y": {"aggregate": "mean", "field": "v", "type": "quantitative", "title": "Exosomal SELL (pg/mL)", "scale": {"domain": [0, 1525], "nice": false}, "axis": {"values": [0,500,1000,1500], "format": "d", "labelFontSize": 13, "titleFontSize": 11, "titlePadding": 8}}
       }},
      {"data": {"name": "b"},
       "transform": [{"window": [{"op": "percent_rank", "as": "pr"}], "sort": [{"field": "o"}], "groupby": ["g"]}],
       "mark": {"type": "circle", "size": 24, "opacity": 1},
       "encoding": {
         "x": {"field": "g", "type": "nominal", "title": null},
         "xOffset": {"field": "pr", "type": "quantitative", "scale": {"domain": [0, 1]}},
         "y": {"field": "v", "type": "quantitative", "title": "Exosomal SELL (pg/mL)"},
         "color": {"field": "g", "type": "nominal", "scale": {"domain": ["LA","BM","LM","HC"], "range": ["#000000","#F8837D","#12B97E","#5B5BF2"]}, "legend": null}
       }},
      {"data": {"name": "b"},
       "mark": {"type": "errorbar", "extent": "stdev", "ticks": true, "size": 13, "thickness": 1.5},
       "encoding": {
         "x": {"field": "g", "type": "nominal", "title": null},
         "y": {"field": "v", "type": "quantitative", "title": "Exosomal SELL (pg/mL)"},
         "color": {"field": "g", "type": "nominal", "legend": null}
       }},
      {"data": {"name": "bb"},
       "mark": {"type": "rule", "strokeWidth": 1.2, "color": "#000"},
       "encoding": {"x": {"field": "a", "type": "nominal", "title": null}, "x2": {"field": "b"}, "y": {"field": "y", "type": "quantitative", "title": "Exosomal SELL (pg/mL)"}}},
      {"data": {"name": "bb"},
       "transform": [{"filter": "datum.sp == 1"}],
       "mark": {"type": "text", "dx": 21.5, "dy": -3, "baseline": "alphabetic", "fontSize": 15, "fontWeight": "bold", "font": "Liberation Serif", "color": "#000"},
       "encoding": {"x": {"field": "a", "type": "nominal", "title": null}, "y": {"field": "y", "type": "quantitative", "title": "Exosomal SELL (pg/mL)"}, "text": {"field": "s"}}},
      {"data": {"name": "bb"},
       "transform": [{"filter": "datum.sp == 2"}],
       "mark": {"type": "text", "dy": -3, "baseline": "alphabetic", "fontSize": 15, "fontWeight": "bold", "font": "Liberation Serif", "color": "#000"},
       "encoding": {"x": {"field": "m", "type": "nominal", "title": null}, "y": {"field": "y", "type": "quantitative", "title": "Exosomal SELL (pg/mL)"}, "text": {"field": "s"}}}
    ]
  },
  {
    "width": 174, "height": 186,
    "title": {"text": "C", "dx": -28, "offset": -12},
    "layer": [
      {"data": {"name": "c"},
       "mark": {"type": "bar", "fill": "white", "stroke": "#333333", "strokeWidth": 1.5},
       "encoding": {
         "x": {"field": "g", "type": "nominal", "title": null, "scale": {"domain": ["LA","BM","LM","HC"], "paddingInner": 0.35, "paddingOuter": 0.4}, "axis": {"labelAngle": -45, "labelFontSize": 12.5, "labelExpr": "datum.label == 'LA' ? 'LA (n=38)' : datum.label == 'BM' ? 'BM (n=32)' : datum.label == 'LM' ? 'LM (n=40)' : 'HC (n=25)'"}},
         "y": {"aggregate": "mean", "field": "v", "type": "quantitative", "title": "Exosomal APOH (ng/mL)", "scale": {"domain": [0, 21.75], "nice": false}, "axis": {"values": [0,5,10,15,20], "labelFontSize": 13, "titleFontSize": 11, "titlePadding": 10}}
       }},
      {"data": {"name": "c"},
       "transform": [{"window": [{"op": "percent_rank", "as": "pr"}], "sort": [{"field": "o"}], "groupby": ["g"]}],
       "mark": {"type": "circle", "size": 24, "opacity": 1},
       "encoding": {
         "x": {"field": "g", "type": "nominal", "title": null},
         "xOffset": {"field": "pr", "type": "quantitative", "scale": {"domain": [0, 1]}},
         "y": {"field": "v", "type": "quantitative", "title": "Exosomal APOH (ng/mL)"},
         "color": {"field": "g", "type": "nominal", "scale": {"domain": ["LA","BM","LM","HC"], "range": ["#000000","#F8837D","#12B97E","#5B5BF2"]}, "legend": null}
       }},
      {"data": {"name": "c"},
       "mark": {"type": "errorbar", "extent": "stdev", "ticks": true, "size": 13, "thickness": 1.5},
       "encoding": {
         "x": {"field": "g", "type": "nominal", "title": null},
         "y": {"field": "v", "type": "quantitative", "title": "Exosomal APOH (ng/mL)"},
         "color": {"field": "g", "type": "nominal", "legend": null}
       }},
      {"data": {"name": "cb"},
       "mark": {"type": "rule", "strokeWidth": 1.2, "color": "#000"},
       "encoding": {"x": {"field": "a", "type": "nominal", "title": null}, "x2": {"field": "b"}, "y": {"field": "y", "type": "quantitative", "title": "Exosomal APOH (ng/mL)"}}},
      {"data": {"name": "cb"},
       "transform": [{"filter": "datum.sp == 1"}],
       "mark": {"type": "text", "dx": 19.6, "dy": -3, "baseline": "alphabetic", "fontSize": 15, "fontWeight": "bold", "font": "Liberation Serif", "color": "#000"},
       "encoding": {"x": {"field": "a", "type": "nominal", "title": null}, "y": {"field": "y", "type": "quantitative", "title": "Exosomal APOH (ng/mL)"}, "text": {"field": "s"}}},
      {"data": {"name": "cb"},
       "transform": [{"filter": "datum.sp == 2"}],
       "mark": {"type": "text", "dy": -3, "baseline": "alphabetic", "fontSize": 15, "fontWeight": "bold", "font": "Liberation Serif", "color": "#000"},
       "encoding": {"x": {"field": "m", "type": "nominal", "title": null}, "y": {"field": "y", "type": "quantitative", "title": "Exosomal APOH (ng/mL)"}, "text": {"field": "s"}}}
    ]
  }
]
},
{
"spacing": 34,
"resolve": {"scale": {"color": "independent"}, "legend": {"color": "independent"}},
"hconcat": [
  {
    "width": 181, "height": 181,
    "title": {"text": "D", "dx": -48, "offset": -12},
    "resolve": {"axis": {"x": "independent", "y": "independent"}},
    "layer": [
      {"data": {"name": "diag"},
       "mark": {"type": "line", "strokeDash": [3, 3], "color": "#9a9a9a", "strokeWidth": 1},
       "encoding": {
         "x": {"field": "x", "type": "quantitative", "title": "100% - Specificity%", "scale": {"domain": [0, 100], "nice": false}, "axis": {"orient": "bottom", "values": [0,40,80], "labelFontSize": 13, "titleFontSize": 14.5, "titlePadding": 8}},
         "y": {"field": "y", "type": "quantitative", "title": "Sensitivity%", "scale": {"domain": [0, 100], "nice": false}, "axis": {"orient": "left", "values": [0,40,80], "labelFontSize": 13, "titleFontSize": 15, "titlePadding": 15}}
       }},
      {"data": {"name": "d"},
       "mark": {"type": "line", "strokeWidth": 1.2, "point": {"filled": true, "size": 5}},
       "encoding": {
         "x": {"field": "fpr", "type": "quantitative", "axis": {"orient": "bottom", "values": [20,60,100], "title": null, "labelFontSize": 13}},
         "y": {"field": "sens", "type": "quantitative", "axis": {"orient": "left", "values": [20,60,100], "title": null, "labelFontSize": 13}},
         "order": [{"field": "fpr", "type": "quantitative"}, {"field": "sens", "type": "quantitative"}],
         "color": {"field": "c", "type": "nominal", "scale": {"domain": ["MUC5B (AUC=0.751)", "SELL (AUC=0.728)"], "range": ["#F04A4A", "#1DB385"]},
                   "legend": {"title": null, "orient": "none", "legendX": 55, "legendY": 138, "symbolType": "stroke", "symbolSize": 360, "symbolStrokeWidth": 1.5, "labelOffset": 10, "rowPadding": -4}}
       }}
    ]
  },
  {
    "width": 181, "height": 181,
    "title": {"text": "E", "dx": -52, "offset": -12},
    "resolve": {"axis": {"x": "independent", "y": "independent"}},
    "layer": [
      {"data": {"name": "diag"},
       "mark": {"type": "line", "strokeDash": [3, 3], "color": "#9a9a9a", "strokeWidth": 1},
       "encoding": {
         "x": {"field": "x", "type": "quantitative", "title": "100% - Specificity%", "scale": {"domain": [0, 100], "nice": false}, "axis": {"orient": "bottom", "values": [0,40,80], "labelFontSize": 13, "titleFontSize": 14.5, "titlePadding": 8}},
         "y": {"field": "y", "type": "quantitative", "title": "Sensitivity%", "scale": {"domain": [0, 100], "nice": false}, "axis": {"orient": "left", "values": [0,40,80], "labelFontSize": 13, "titleFontSize": 15, "titlePadding": 15}}
       }},
      {"data": {"name": "e"},
       "mark": {"type": "line", "strokeWidth": 1.2, "point": {"filled": true, "size": 5}},
       "encoding": {
         "x": {"field": "fpr", "type": "quantitative", "axis": {"orient": "bottom", "values": [20,60,100], "title": null, "labelFontSize": 13}},
         "y": {"field": "sens", "type": "quantitative", "axis": {"orient": "left", "values": [20,60,100], "title": null, "labelFontSize": 13}},
         "order": [{"field": "fpr", "type": "quantitative"}, {"field": "sens", "type": "quantitative"}],
         "color": {"field": "c", "type": "nominal", "scale": {"domain": ["MUC5B, SELL(AUC=0.808)"], "range": ["#EE5A8C"]},
                   "legend": {"title": null, "orient": "none", "legendX": 35, "legendY": 142, "symbolType": "stroke", "symbolSize": 360, "symbolStrokeWidth": 1.5, "labelOffset": 10}}
       }}
    ]
  },
  {
    "width": 181, "height": 181,
    "title": {"text": "F", "dx": -50, "offset": -12},
    "resolve": {"axis": {"x": "independent", "y": "independent"}},
    "layer": [
      {"data": {"name": "diag"},
       "mark": {"type": "line", "strokeDash": [3, 3], "color": "#9a9a9a", "strokeWidth": 1},
       "encoding": {
         "x": {"field": "x", "type": "quantitative", "title": "100% - Specificity%", "scale": {"domain": [0, 100], "nice": false}, "axis": {"orient": "bottom", "values": [0,40,80], "labelFontSize": 13, "titleFontSize": 14.5, "titlePadding": 8}},
         "y": {"field": "y", "type": "quantitative", "title": "Sensitivity%", "scale": {"domain": [0, 100], "nice": false}, "axis": {"orient": "left", "values": [0,40,80], "labelFontSize": 13, "titleFontSize": 15, "titlePadding": 15}}
       }},
      {"data": {"name": "f"},
       "mark": {"type": "line", "strokeWidth": 1.2, "point": {"filled": true, "size": 5}},
       "encoding": {
         "x": {"field": "fpr", "type": "quantitative", "axis": {"orient": "bottom", "values": [20,60,100], "title": null, "labelFontSize": 13}},
         "y": {"field": "sens", "type": "quantitative", "axis": {"orient": "left", "values": [20,60,100], "title": null, "labelFontSize": 13}},
         "order": [{"field": "fpr", "type": "quantitative"}, {"field": "sens", "type": "quantitative"}],
         "color": {"field": "c", "type": "nominal", "scale": {"domain": ["APOH (AUC=0.714)"], "range": ["#000000"]},
                   "legend": {"title": null, "orient": "none", "legendX": 62, "legendY": 136, "symbolType": "stroke", "symbolSize": 360, "symbolStrokeWidth": 1.5, "labelOffset": 10}}
       }}
    ]
  }
]
}
]
}
